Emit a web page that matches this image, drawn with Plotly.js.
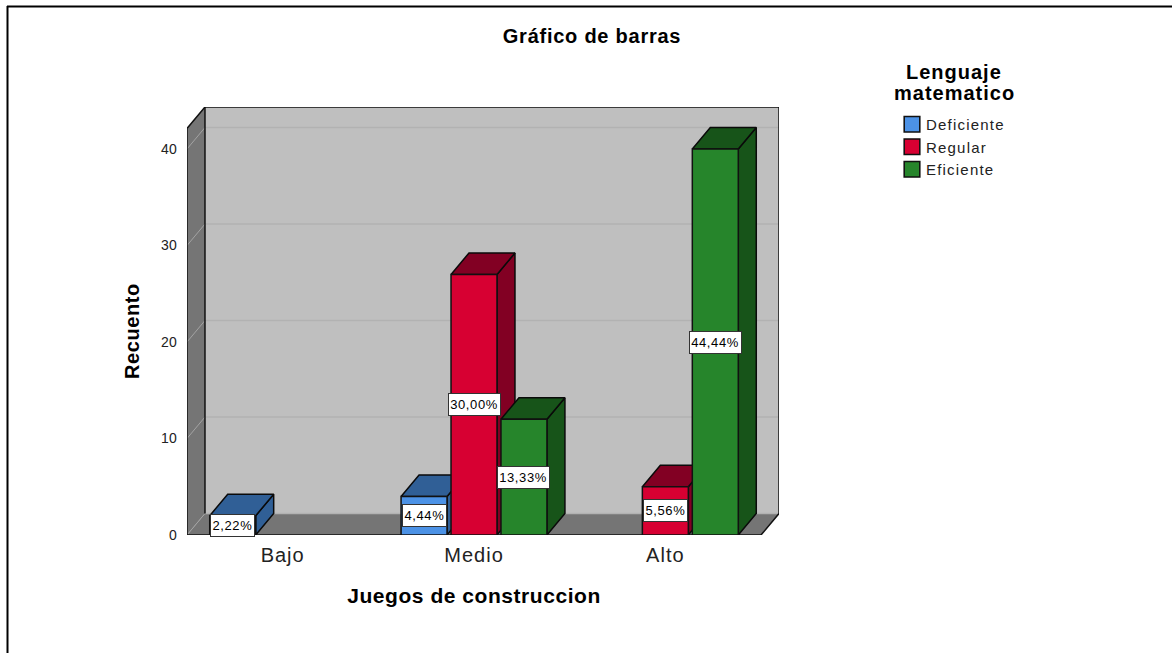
<!DOCTYPE html>
<html>
<head>
<meta charset="utf-8">
<script src="https://cdn.plot.ly/plotly-3.0.1.min.js"></script>
<style>
html,body{margin:0;padding:0;background:#fff}
#chart{width:1172px;height:653px}
.gtitle{letter-spacing:.75px}
.xtitle{letter-spacing:.55px;translate:-9px 1px}
.ytitle{letter-spacing:.6px;translate:0 10px}
.xtick text{letter-spacing:1px}
.ytick text{letter-spacing:.3px}
.legendtext{letter-spacing:1.2px}
.legend .legendpoints path{transform:translateX(26px) scale(1.3);stroke-width:1.2px !important}
.annotation text{letter-spacing:.6px}
.annotation[data-index="0"] text,.annotation[data-index="1"] text{letter-spacing:1px}
</style>
</head>
<body>
<div id="chart"></div>
<script>
const categories = ["Bajo", "Medio", "Alto"];
const deficiente = [2, 4, null];
const regular = [null, 27, 5];
const eficiente = [null, 12, 40];
const deficienteLabels = ["2,22%", "4,44%", null];
const regularLabels = [null, "30,00%", "5,56%"];
const eficienteLabels = [null, "13,33%", "44,44%"];
const yTicks = [0, 10, 20, 30, 40];
const seriesNames = ["Deficiente", "Regular", "Eficiente"];
const legendTitleLines = ["Lenguaje", "matematico"];
const frontColors = ["#4c92e6", "#d70032", "#26852b"];
const darkColors = ["#305f96", "#820023", "#175419"];

const W = 1172, H = 653;
const plotL = 187, plotR = 779, plotT = 107, plotB = 535;
const pxPerCat = 191.5, pxPerVal = 9.65;
const depthX = 18 / pxPerCat, depthY = 21.5 / pxPerVal;
const xMin = -0.5, xFrontMax = 2.5, xMax = xFrontMax + depthX;
const yMax = (plotB - plotT) / pxPerVal, yFrontMax = yMax - depthY;
const step = 50 / pxPerCat, barW = 46 / pxPerCat;
const font = "Liberation Sans, Arial, sans-serif";
const allSeries = [deficiente, regular, eficiente];
const allLabels = [deficienteLabels, regularLabels, eficienteLabels];

function poly(xs, ys, fill, lineColor, lineWidth) {
  return {type:"scatter", mode:"lines", x:xs, y:ys, fill:"toself", fillcolor:fill,
    line:{color:lineColor, width:lineWidth}, hoverinfo:"skip", showlegend:false, cliponaxis:false};
}
function lines(xs, ys, color, width) {
  return {type:"scatter", mode:"lines", x:xs, y:ys, line:{color:color, width:width},
    hoverinfo:"skip", showlegend:false, cliponaxis:false, connectgaps:false};
}
const noLine = "rgba(0,0,0,0)";
const bx = xMin + depthX;

const traces = [];
// back wall, left wall, floor (fills)
traces.push(poly([bx, xMax, xMax, bx, bx], [depthY, depthY, yMax, yMax, depthY], "#bfbfbf", noLine, 0));
traces.push(poly([xMin, bx, bx, xMin, xMin], [0, depthY, yMax, yFrontMax, 0], "#757575", noLine, 0));
traces.push(poly([xMin, xFrontMax, xMax, bx, xMin], [0, 0, depthY, depthY, 0], "#757575", noLine, 0));
// grid lines
const gx = [], gy = [], dx = [], dy = [];
yTicks.forEach(t => {
  gx.push(bx, xMax, null); gy.push(t+depthY, t+depthY, null);
  dx.push(xMin, bx, null); dy.push(t, t+depthY, null);
});
traces.push(lines(gx, gy, "#b2b2b2", 1.5));
traces.push(lines(dx, dy, "#a3a3a3", 1));
// wall outlines
traces.push(lines([xMin, xMin, bx, xMax, xMax, xFrontMax, xMin, null, bx, bx],
                  [0, yFrontMax, yMax, yMax, depthY, 0, 0, null, yMax, depthY], "#111111", 1.5));

// bar side + top faces, left to right so nearer faces overlap correctly
categories.forEach((c, ci) => {
  allSeries.forEach((vals, si) => {
    const v = vals[ci];
    if (v === null) return;
    const cx = ci + (si - 1) * step, l = cx - barW/2, r = cx + barW/2;
    traces.push(poly([r, r+depthX, r+depthX, r, r], [0, depthY, v+depthY, v, 0], darkColors[si], "#0a0a0a", 1.5));
    traces.push(poly([l, r, r+depthX, l+depthX, l], [v, v, v+depthY, v+depthY, v], darkColors[si], "#0a0a0a", 1.5));
  });
});

// front faces
allSeries.forEach((vals, si) => {
  traces.push({type:"bar", name:seriesNames[si], x:[0,1,2], y:vals, xaxis:"x2", yaxis:"y2",
    marker:{color:frontColors[si], line:{color:"#111111", width:1.5}},
    cliponaxis:false, hoverinfo:"y+name"});
});

const annotations = [];
legendTitleLines.forEach((t, i) => annotations.push({
  x:954/W, y:1-(72+21*i)/H, xref:"paper", yref:"paper", text:t, showarrow:false,
  xanchor:"center", yanchor:"middle", font:{family:font, size:20, weight:"bold", color:"#000"}
}));
allSeries.forEach((vals, si) => vals.forEach((v, ci) => {
  if (v === null) return;
  annotations.push({x:ci+(si-1)*step, y:v/2, xref:"x", yref:"y", text:allLabels[si][ci], showarrow:false,
    font:{family:font, size:13, color:"#000"}, bgcolor:"#fff", bordercolor:"#333", borderwidth:1, borderpad:3});
}));

const layout = {
  width:W, height:H, autosize:false, paper_bgcolor:"#fff", plot_bgcolor:"rgba(0,0,0,0)",
  margin:{l:0, r:0, t:0, b:0, pad:0},
  font:{family:font, color:"#000"},
  title:{text:"Gráfico de barras", x:592/W, xanchor:"center", y:1-36/H, yanchor:"middle",
         font:{family:font, size:20, weight:"bold", color:"#000"}},
  barmode:"group", bargap:1-3*step, bargroupgap:1-barW/step,
  xaxis:{domain:[plotL/W, plotR/W], range:[xMin, xMax], tickmode:"array", tickvals:[0,1,2], ticktext:categories,
    tickfont:{family:font, size:20, color:"#222"}, showgrid:false, zeroline:false, showline:false,
    ticks:"outside", ticklen:2, tickcolor:"rgba(0,0,0,0)", fixedrange:true,
    title:{text:"Juegos de construccion", standoff:22, font:{family:font, size:21, weight:"bold", color:"#000"}}},
  yaxis:{domain:[1-plotB/H, 1-plotT/H], range:[0, yMax], tickmode:"array", tickvals:yTicks,
    tickfont:{family:font, size:14, color:"#222"}, showgrid:false, zeroline:false, showline:false,
    ticks:"outside", ticklen:6, tickcolor:"rgba(0,0,0,0)", fixedrange:true,
    title:{text:"Recuento", standoff:16, font:{family:font, size:20, weight:"bold", color:"#000"}}},
  xaxis2:{overlaying:"x", anchor:"y2", range:[xMin, xMax], visible:false, fixedrange:true},
  yaxis2:{overlaying:"y", anchor:"x2", range:[0, yMax], visible:false, fixedrange:true},
  legend:{x:886/W, xanchor:"left", y:1-108/H, yanchor:"top", bgcolor:"rgba(0,0,0,0)",
    traceorder:"normal", font:{family:font, size:15, color:"#222"}},
  annotations:annotations,
  shapes:[
    {type:"line", xref:"paper", yref:"paper", x0:7/W, x1:1, y0:1-6.5/H, y1:1-6.5/H, line:{color:"#000", width:2}},
    {type:"line", xref:"paper", yref:"paper", x0:7.5/W, x1:7.5/W, y0:0, y1:1-6/H, line:{color:"#000", width:2}}
  ]
};
Plotly.newPlot("chart", traces, layout, {displayModeBar:false, responsive:false});
</script>
</body>
</html>
